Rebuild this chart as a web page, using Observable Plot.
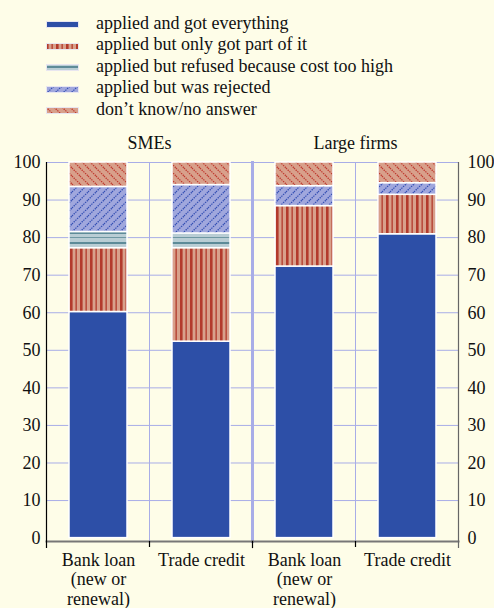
<!DOCTYPE html>
<html><head><meta charset="utf-8">
<script src="https://cdn.jsdelivr.net/npm/d3@7"></script>
<script src="https://cdn.jsdelivr.net/npm/@observablehq/plot@0.6"></script>
<style>
html,body{margin:0;padding:0;background:#fefde8;}
body{width:494px;height:608px;overflow:hidden;font-family:"Liberation Serif","Times New Roman",serif;color:#111;}
#legend{height:120px;box-sizing:border-box;padding-top:12.5px;}
.row{height:21.5px;display:flex;align-items:center;font-size:18px;}
.row svg{margin-left:46px;margin-right:17px;flex:none;margin-top:3px;}
#chart svg{display:block;overflow:visible;}
</style></head><body>
<svg width="0" height="0" style="position:absolute">
<defs>
<pattern id="p-part" patternUnits="userSpaceOnUse" width="10" height="10">
  <rect width="10" height="10" fill="#d8a08b"/>
  <rect x="0" width="2.6" height="10" fill="#b33a2c"/>
  <rect x="5.5" width="1.3" height="10" fill="#b33a2c"/>
</pattern>
<pattern id="p-cost" patternUnits="userSpaceOnUse" width="10" height="10">
  <rect width="10" height="10" fill="#b9cdd4"/>
  <rect y="2" width="10" height="2" fill="#5d8b98"/>
  <rect y="7" width="10" height="1" fill="#6f97a3"/>
</pattern>
<pattern id="p-rej" patternUnits="userSpaceOnUse" width="8" height="8">
  <rect width="8" height="8" fill="#a0a7dd"/>
  <path d="M-1,1 L1,-1 M0,8 L8,0 M7,9 L9,7" stroke="#3550b4" stroke-width="1.3" stroke-dasharray="1.4 1"/>
</pattern>
<pattern id="p-dk" patternUnits="userSpaceOnUse" width="8" height="8">
  <rect width="8" height="8" fill="#d8a08b"/>
  <path d="M-1,7 L1,9 M0,0 L8,8 M7,-1 L9,1" stroke="#c03a30" stroke-width="1.3" stroke-dasharray="1.4 1"/>
</pattern>
</defs>
</svg>
<div id="legend"></div>
<div id="chart"></div>
<script>
// ---- data ----
const categories = [
  "applied and got everything",
  "applied but only got part of it",
  "applied but refused because cost too high",
  "applied but was rejected",
  "don\u2019t know/no answer"
];
const groups = ["SMEs", "Large firms"];
const instruments = ["Bank loan (new or renewal)", "Trade credit"];
const xTickLabels = ["Bank loan\n(new or\nrenewal)", "Trade credit"];
// bar order: SMEs bank loan, SMEs trade credit, Large bank loan, Large trade credit
const barGroup = ["SMEs", "SMEs", "Large firms", "Large firms"];
const barInstrument = ["Bank loan (new or renewal)", "Trade credit", "Bank loan (new or renewal)", "Trade credit"];
const gotEverything = [60.2, 52.3, 72.3, 80.9];
const gotPart = [17.0, 24.9, 16.1, 10.5];
const refusedCost = [4.3, 3.9, 0.0, 0.0];
const rejected = [12.0, 12.9, 5.3, 3.1];
const dontKnow = [6.5, 6.0, 6.3, 5.5];
const yTicks = [0, 10, 20, 30, 40, 50, 60, 70, 80, 90, 100];
const gridTicks = [10, 20, 30, 40, 50, 60, 70, 80, 90, 100];

// ---- styles ----
const fills = ["#2d4fa7", "url(#p-part)", "url(#p-cost)", "url(#p-rej)", "url(#p-dk)"];
const lavender = "#a8ade7";

const series = [gotEverything, gotPart, refusedCost, rejected, dontKnow];
const rows = [];
barGroup.forEach((g, i) => {
  categories.forEach((c, k) => {
    rows.push({group: g, instrument: barInstrument[i], category: c, value: series[k][i]});
  });
});

// legend
const legend = d3.select("#legend");
categories.forEach((c, k) => {
  const r = legend.append("div").attr("class", "row");
  const s = r.append("svg").attr("width", 33).attr("height", 7);
  s.append("rect").attr("x", 0.5).attr("y", 0.5).attr("width", 32).attr("height", 6)
    .attr("fill", fills[k]).attr("stroke", "#e8e6f0").attr("stroke-width", 1);
  r.append("span").text(c);
});

const frameH = 488 - 42 - 67;
const plot = Plot.plot({
  width: 494,
  height: 488,
  marginTop: 42,
  marginBottom: 67,
  marginLeft: 46,
  marginRight: 36,
  style: {background: "transparent", fontFamily: "Liberation Serif, Times New Roman, serif", fontSize: "18px", color: "#111"},
  fx: {domain: groups, padding: 0, label: null},
  x: {domain: instruments, paddingInner: 0.437, paddingOuter: 0.2185, label: null},
  y: {domain: [-0.9, 100], label: null},
  color: {type: "ordinal", domain: categories, range: fills},
  marks: [
    Plot.ruleY(gridTicks, {y: d => d, stroke: lavender, strokeWidth: 1}),
    Plot.ruleX([0], {x: null, stroke: lavender, strokeWidth: 1}),
    Plot.frame({anchor: "left", facetAnchor: "right", stroke: lavender, strokeWidth: 3}),
    Plot.barY(rows, {fx: "group", x: "instrument", y: "value", fill: "category", stroke: "white", strokeWidth: 1.5}),
    Plot.frame({anchor: "bottom", stroke: "#777", strokeWidth: 2}),
    // small bracket ticks below the base line
    Plot.ruleX([0], {x: null, stroke: "#000", strokeWidth: 1.2, insetTop: frameH, insetBottom: -6}),
    Plot.frame({anchor: "left", facetAnchor: "right", stroke: "#000", strokeWidth: 1.2, insetTop: frameH, insetBottom: -6}),
    Plot.frame({anchor: "left", facetAnchor: "left", stroke: "#000", strokeWidth: 1.2, insetBottom: -6}),
    Plot.frame({anchor: "right", facetAnchor: "right", stroke: "#666", strokeWidth: 1.2, insetBottom: -6}),
    Plot.axisY(yTicks, {anchor: "left", tickSize: 0, tickPadding: 6, label: null}),
    Plot.axisY(yTicks, {anchor: "right", tickSize: 0, tickPadding: 9, label: null}),
    Plot.axisX({tickSize: 0, tickPadding: 10, lineHeight: 1.1, tickFormat: d => xTickLabels[instruments.indexOf(d)], label: null}),
    Plot.axisFx({anchor: "top", tickSize: 0, tickPadding: 14, label: null})
  ]
});
document.getElementById("chart").appendChild(plot);
</script>
</body></html>
